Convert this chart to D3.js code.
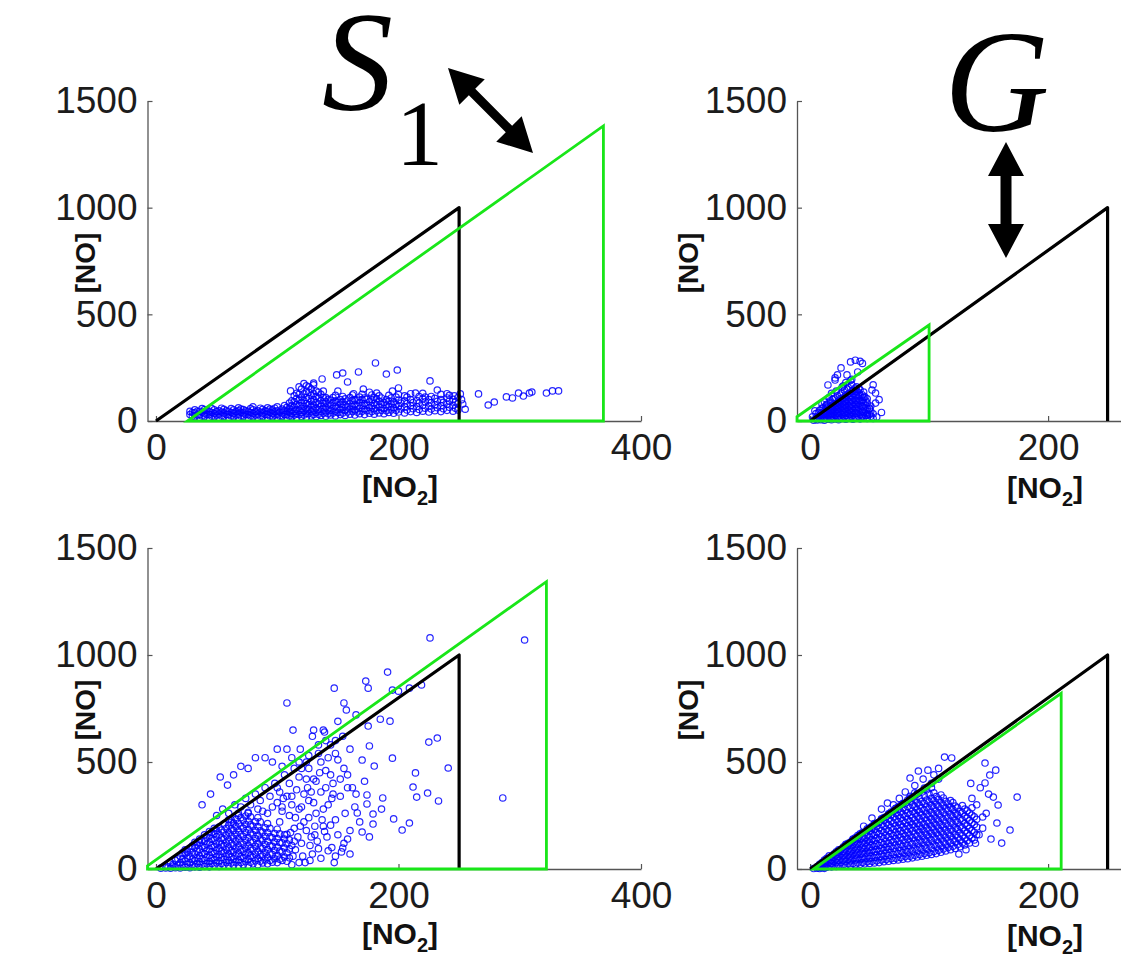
<!DOCTYPE html>
<html><head><meta charset="utf-8">
<script src="https://cdn.jsdelivr.net/npm/d3@7"></script>
<style>body{margin:0;background:#fff}svg{display:block}</style>
</head><body><svg id="c" width="1121" height="958"></svg>
<script>
// ---------- tick values ----------
const yTicks=[0,500,1000,1500];
const xTicksWide=[0,200,400];
const xTicksNarrow=[0,200];
// ---------- boundary lines ----------
const blackBound=[[0,0],[250,1000],[250,0]];
const greenTL=[[26,0],[369,1383],[369,0]];
const greenTR=[[-11,20],[100,450],[100,0],[-11,0]];
const greenBL=[[-7,15],[322,1343],[322,0],[-7,0]];
const greenBR=[[3,0],[211,821],[211,0]];
// ---------- scatter data: dense columns [NO2, NO, NO, ...] and single points [NO2, NO] ----------
const tlDense=[
[28,30,45],[32,20,38,52],[36,16,30,46],[40,22,38,54],[44,14,30,46],[48,20,36,52],[52,16,32,48],[56,22,38,55],
[60,15,30,46],[64,20,36,52],[68,16,32,48,62],[72,22,38,54],[76,15,30,46],[80,20,36,52,66],[84,16,32,48],
[88,22,38,55],[92,15,30,46,62],[96,20,36,52],[100,16,32,48,66],[104,22,38,56],[108,15,30,46,64],
[112,20,36,52,72,95],[116,16,34,54,78,105,130],[120,22,40,60,85,112,150],[124,18,36,58,82,110,140,165],
[128,24,44,66,92,120,150],[132,20,40,62,88,115,140],[136,26,46,70,96,125],[140,22,42,66,90,110],
[144,28,50,74,98],[148,24,46,70,95,120],[152,30,54,78,100],[156,26,50,75,104],[160,32,56,80,110],
[164,28,52,78,100],[168,34,60,86,112],[172,30,56,82,108],[176,36,62,90],[180,32,58,84,110],[184,38,64,92,118],
[188,34,60,88],[192,40,66,94,120],[196,36,62,90],[200,42,70,98,124],[205,38,66,95],[210,44,72,100,128],
[215,40,68,96],[220,46,74,104,130],[225,42,70,100],[230,48,76,106],[235,44,72,100,125],[240,50,78,108],
[245,46,74,102],[249,52,80,110]];
const tlDense2=[
[30,24,40],[34,28,46],[38,24,42,58],[42,30,50],[46,22,40,58],[50,28,44],[54,24,42,60],[58,30,48],[62,24,40,58],
[66,28,44],[70,24,40,56],[74,30,48],[78,24,40,58],[82,28,44],[86,24,42,60],[90,30,48],[94,24,40,56],[98,28,44,60],
[102,24,42],[106,30,50,72],[110,24,42,60,84],[114,28,46,66,90,118],[118,30,50,72,98,125,160],[122,28,48,70,96,128,175],
[126,34,54,76,105,135,160],[130,30,52,76,100,128,170],[134,32,54,80,108,135],[138,36,58,82,110,140],[142,34,56,80,102],
[146,38,60,86,110],[150,40,62,88],[154,38,64,90,115],[158,42,66,94],[162,44,68,96,122],[166,42,70,98],[170,46,72,100,125],
[174,48,74,102],[178,44,72,100,122],[182,48,76,104],[186,50,78,108],[190,48,76,100],[194,52,80,108],[198,50,78,112],
[202,56,84],[207,52,82,112],[212,58,86],[217,54,84,115],[222,60,90],[227,56,86,115],[232,62,92],[237,58,88],
[242,64,94,120],[247,60,90]];
const tlPoints=[[181,272],[199,239],[167,230],[190,220],[154,225],[149,216],[158,183],[137,197],[130,178],[111,141],
[226,188],[200,155],[232,145],[214,131],[182,131],[171,150],[195,140],[205,118],[222,112],[240,128],[246,118],
[176,135],[163,128],[150,140],[251,127],[266,127],[274,75],[279,89],[289,113],[294,108],[299,131],[303,117],
[308,131],[310,136],[322,131],[327,141],[332,141],[253,80],[255,55],[252,100]];
const trDense=[
[3,4],[6,5,18],[9,6,20,34],[12,4,18,32,46],[15,8,24,40,56],[18,6,22,38,54,70],[21,10,26,44,62,80],
[24,6,24,42,60,78,94],[27,12,30,48,66,84,104],[30,8,26,44,62,80,100,118],[33,14,32,50,70,90,110,130],
[36,8,28,48,68,88,108,128,144],[39,16,36,56,76,96,118,140,160],[42,10,30,52,74,96,120,146],
[45,18,40,62,86,110,136],[48,12,34,58,84,104],[51,22,46,70]];
const trDense2=[
[5,10],[8,12,26],[11,12,28,40],[14,14,30,46,60],[17,16,32,48,64],[20,16,32,50,68,82],[23,18,36,54,72,88],
[26,16,34,52,70,90,106],[29,20,40,58,76,94,112],[32,18,36,54,72,92,112,126],[35,22,42,60,80,100,120,138],
[38,18,38,58,78,98,120,138,154],[41,22,42,64,86,108,132,152],[44,24,46,70,98,122],[47,26,48,72,94],[50,30,56],[53,12,34]];
const trPoints=[[2,20],[5,35],[8,50],[11,62],[14,78],[17,88],[20,105],[23,118],[26,130],[29,145],[32,158],[35,170],
[4,48],[10,80],[16,110],[22,140],[28,165],[34,190],[7,40],[13,70],[19,100],[25,122],[31,150],
[10,60],[14,75],[17,95],[15,169],[21,192],[21,202],[23,216],[31,216],[26,249],[34,277],[38,285],[42,280],
[44,270],[30,180],[27,160],[35,195],[40,230],[18,130],[12,90],
[52,145],[55,131],[46,113],[55,84],[50,61],[48,28],[56,19],[60,40],[58,100],[53,170]];
const blDense=[
[4,4],[8,5],[12,4,30],[16,6,40],[20,5,30,60],[24,8,36,70,90],[28,6,30,60,95],[32,10,38,68,100,125],
[36,8,34,62,92,124,140],[40,12,40,70,100,130,160],[44,10,36,64,94,126,158,175],[48,14,42,72,102,134,166,190],
[52,12,38,68,98,130,162,196],[56,16,44,74,106,138,172,210],[60,14,40,70,102,136,170,205,230],
[64,18,46,78,110,144,180,215],[68,16,42,74,108,142,178,214,250],[72,20,50,82,116,152,190,228],
[76,18,46,78,112,148,186,224,265],[80,24,54,88,124,160,200],[84,20,50,84,120,158,198,240],
[88,28,60,96,134,172],[92,24,56,92,130,170,212],[96,32,68,106,146],[100,30,64,102,142,186],
[104,40,80,122],[108,36,76,118,162]];
const blDense2=[
[10,10],[14,14,22],[18,18,48],[22,20,46,76],[26,22,50,80],[30,20,46,78,108],[34,24,50,82,112],[38,22,48,76,108,132],
[42,24,54,84,116,146],[46,26,50,80,110,142,170],[50,28,56,86,118,150,180],[54,26,54,84,116,146,182],
[58,30,58,90,122,156,190],[62,28,56,86,120,154,188,218],[66,32,62,94,128,162,198,232],[70,30,58,92,126,162,200,240],
[74,34,66,98,134,170,208,248],[78,32,62,96,130,168,206,244],[82,38,70,106,142,180,220],[86,36,68,102,140,178,220],
[90,42,76,114,152,192],[94,40,74,110,150,190],[98,48,86,126,166],[102,46,84,124,164],[106,56,98,140],[110,52,94,136]];
const blPoints=[[50,250],[55,280],[60,260],[65,300],[70,290],[74,330],[78,300],[82,350],[86,320],[90,380],[94,340],
[98,400],[102,360],[106,440],[110,400],[114,470],[118,430],[122,350],[126,470],[88,270],[96,290],[104,270],
[112,300],[120,290],[128,360],[132,410],[140,380],[136,500],[144,440],[100,310],[108,340],[116,370],[124,420],
[92,260],[84,280],[76,260],[68,260],[62,230],[130,310],[138,280],[146,350],[152,420],[158,380],[142,520],
[148,600],[134,580],[126,530],[118,500],[112,520],[104,480],
[100,380],[102,220],[104,290],[106,160],[110,250],[112,340],[114,190],[118,280],[122,220],[124,500],[126,320],
[128,150],[130,420],[132,260],[134,540],[136,360],[138,200],[140,460],[142,300],[144,580],[146,400],[148,230],
[150,510],[152,340],[154,620],[156,260],[158,440],[160,180],[162,380],[164,290],[168,220],[172,410],[176,150],
[105,330],[115,240],[125,380],[135,450],[145,330],[155,470],[165,350],[119,560],[129,620],[139,640],
[53,430],[45,350],[59,392],[38,300],[64,440],[70,480],[76,470],[82,520],[90,520],[96,500],[100,560],[108,560],
[113,649],[108,776],[130,649],[138,649],[147,845],[155,776],[157,743],[173,878],[175,845],[191,920],[195,836],
[200,831],[209,845],[219,860],[226,1080],[304,1070],[193,691],[175,668],[225,593],[232,612],[176,575],
[195,518],[170,509],[180,481],[241,472],[214,449],[212,383],[224,355],[233,318],[215,336],[286,332],[187,332],
[174,346],[174,304],[186,280],[179,257],[196,234],[209,215],[203,182],[166,262],[170,173],[179,210],[154,98],
[185,700],[165,720],[150,690],[140,600],[160,560],[148,540],[120,470],
[113,60],[120,120],[127,40],[134,95],[141,150],[148,60],[155,120],[160,70],[118,30],[131,160],[145,100],
[112,20],[115,90],[117,150],[121,60],[124,180],[127,110],[129,70],[133,130],[136,50],[139,175],[142,85],[147,30],
[150,160],[153,80],[158,140],[114,130],[119,200],[123,30],[126,240],[131,200],[137,230],[144,205],[111,170],[112,110]];
const brDense=[
[6,4,12],[10,6,18,30],[14,8,22,38,50],[18,10,26,42,58],[22,12,30,48,66,80],[26,14,32,52,72,92],
[30,16,36,56,76,98,112],[34,18,38,60,82,104,126],[38,20,42,64,86,108,130,146],[42,22,44,68,90,114,138,160],
[46,24,48,72,96,120,144,168],[50,26,50,76,100,126,150,176,192],[54,28,54,80,106,132,158,184,208],
[58,30,56,84,110,138,164,192,218],[62,34,60,88,116,144,172,200,228,240],[66,36,64,92,120,150,178,206,234,256],
[70,40,68,96,126,156,186,214,244,270],[74,42,72,100,130,160,190,220,250,280,290],
[78,46,76,106,136,166,196,226,256,286,306],[82,48,80,110,140,172,202,232,262,292,322],
[86,52,84,116,146,178,208,240,270,300,336],[90,56,88,120,152,184,214,246,278,310,350],
[94,60,92,124,156,188,220,252,284,316,360],[98,64,96,128,160,192,226,258,290,322,370],
[102,68,100,134,166,198,232,264,296,330,380],[106,72,106,138,170,204,236,270,302,338],
[110,78,110,144,176,208,242,276,310,346],[114,84,116,148,182,214,248,282,316],[118,90,122,154,186,220,254,288,320],
[122,96,128,160,192,226,260,294],[126,104,136,168,200,234,268],[130,112,144,178,212,246,280],
[134,122,156,190,226,262],[138,136,172,208,244]];
const brDense2=[
[8,8,22],[12,12,26,42],[16,14,30,46,62],[20,16,34,52,70],[24,18,40,58,78,90],[28,20,42,62,82,104],
[32,24,46,66,88,110,120],[36,26,50,72,94,116,136],[40,28,52,76,98,120,142,156],[44,30,56,80,102,126,150,170],
[48,34,60,84,108,132,156,182],[52,36,62,88,114,138,164,188,200],[56,38,66,92,118,146,172,200,214],
[60,42,70,98,124,152,180,208,232],[64,44,74,102,130,158,186,216,244],[68,48,78,106,136,166,194,224,254,266],
[72,50,82,112,142,172,202,232,262,284],[76,54,86,116,148,178,208,238,268,298],[80,58,90,122,154,184,216,246,276,308],
[84,60,94,126,158,190,222,254,286,318,340],[88,64,98,132,164,196,228,260,292,326,356],[92,68,102,136,170,202,234,266,298,332],
[96,72,108,140,174,208,240,274,306,342],[100,76,112,146,180,214,246,280,314,350],[104,82,116,150,184,218,252,286,320,356],
[108,88,122,156,190,224,258,292,326],[112,94,128,162,196,230,264,298,332],[116,100,134,168,202,238,272,304],
[120,106,140,176,210,244,278,310],[124,114,148,184,218,252,286],[128,122,156,192,228,262,296],[132,132,168,202,238,272],
[136,144,180,216,252,286],[140,160,196,232]];
const brPoints=[[52,238],[65,308],[84,425],[91,458],[99,462],[113,523],[119,519],[108,470],[104,440],[75,330],
[60,280],[45,200],[70,300],[95,420],[88,390],[80,360],
[30,115],[36,140],[42,165],[48,188],[54,212],[60,235],[66,258],[72,282],[78,305],[84,330],[90,352],[96,378],
[102,400],[108,420],
[174,336],[147,495],[156,462],[151,439],[147,402],[161,121],[168,182],[154,336],[158,299],[157,215],[145,243],
[145,191],[142,160],[140,300],[148,260],[150,350],[143,380],[136,330],[139,120],[152,140],[131,90],[125,70],
[135,400],[3,2],[8,2],[12,3]];

function flat(){const out=[];for(const set of arguments){set.forEach(c=>{if(set.isPairs){out.push(c);}else{for(let i=1;i<c.length;i++)out.push([c[0],c[i]]);}});}return out;}
function pairs(a){const b=a.slice();b.isPairs=true;return b;}

const svg=d3.select("#c");
const panels=[
 {xd:[-7,400],xr:[147.5,641],yr:[421,101],xt:xTicksWide,green:greenTL,pts:flat(tlDense,tlDense2,pairs(tlPoints)),xl:[400,497],yl:[85,263]},
 {xd:[-11,270],xr:[797,797+281*1.19],yr:[421,101],xt:xTicksNarrow,green:greenTR,pts:flat(trDense,trDense2,pairs(trPoints)),xl:[1045,498],yl:[688,263]},
 {xd:[-7,400],xr:[147.5,641],yr:[869,548],xt:xTicksWide,green:greenBL,pts:flat(blDense,blDense2,pairs(blPoints)),xl:[400,944],yl:[85,710]},
 {xd:[-11,270],xr:[797,797+281*1.19],yr:[869,548],xt:xTicksNarrow,green:greenBR,pts:flat(brDense,brDense2,pairs(brPoints)),xl:[1045,946],yl:[688,710]}
];
const tickFont='"Liberation Sans", Arial, Helvetica, sans-serif';
panels.forEach(p=>{
  const x=d3.scaleLinear().domain(p.xd).range(p.xr);
  const y=d3.scaleLinear().domain([0,1500]).range(p.yr);
  const g=svg.append("g");
  const ax=g.append("g").attr("transform",`translate(0,${p.yr[0]})`)
    .call(d3.axisBottom(x).tickValues(p.xt).tickFormat(d3.format("d")).tickSizeInner(-5).tickSizeOuter(0).tickPadding(13));
  const ay=g.append("g").attr("transform",`translate(${p.xr[0]},0)`)
    .call(d3.axisLeft(y).tickValues(yTicks).tickFormat(d3.format("d")).tickSizeInner(-5).tickSizeOuter(0).tickPadding(10));
  [ax,ay].forEach(a=>{
    a.select(".domain").attr("stroke","#555").attr("stroke-width",1.3);
    a.selectAll(".tick line").attr("stroke","#555").attr("stroke-width",1.2);
    a.selectAll(".tick text").attr("font-family",tickFont).attr("font-size",37).attr("fill","#1c1c1c");
  });
  // scatter
  g.append("g").selectAll("circle").data(p.pts).join("circle")
    .attr("cx",d=>x(d[0])).attr("cy",d=>y(d[1])).attr("r",3.2)
    .attr("fill","none").attr("stroke","#0000ff").attr("stroke-width",1.2).attr("stroke-opacity",0.85);
  const line=d3.line().x(d=>x(d[0])).y(d=>y(d[1]));
  g.append("path").attr("d",line(blackBound)).attr("fill","none").attr("stroke","#000").attr("stroke-width",3.2).attr("stroke-linejoin","round");
  g.append("path").attr("d",line(p.green)+"Z").attr("fill","none").attr("stroke","#19e619").attr("stroke-width",2.8);
  // axis labels
  const xl=g.append("text").attr("x",p.xl[0]).attr("y",p.xl[1]).attr("text-anchor","middle")
    .attr("font-family",tickFont).attr("font-weight","bold").attr("font-size",30).attr("fill","#111");
  xl.append("tspan").text("[NO");
  xl.append("tspan").text("2").attr("font-size",20).attr("dy",8);
  xl.append("tspan").text("]").attr("dy",-8);
  g.append("text").attr("transform",`translate(${p.yl[0]},${p.yl[1]}) rotate(-90)`)
    .attr("text-anchor","middle").attr("dominant-baseline","central")
    .attr("font-family",tickFont).attr("font-weight","bold").attr("font-size",28).attr("fill","#111").text("[NO]");
});

// ---------- annotations ----------
function dblArrow(p1,p2,hl,hw,sw){
  const dx=p2[0]-p1[0],dy=p2[1]-p1[1],L=Math.hypot(dx,dy),ux=dx/L,uy=dy/L,nx=-uy,ny=ux;
  const P=(t,s)=>[p1[0]+ux*t+nx*s,p1[1]+uy*t+ny*s];
  return [P(0,0),P(hl,hw),P(hl,sw),P(L-hl,sw),P(L-hl,hw),P(L,0),P(L-hl,-hw),P(L-hl,-sw),P(hl,-sw),P(hl,-hw)];
}
const serif='"Liberation Serif", "Times New Roman", Times, serif';
svg.append("text").attr("x",322).attr("y",110).attr("font-family",serif).attr("font-style","italic")
  .attr("font-size",142).attr("fill","#000").text("S");
svg.append("text").attr("x",396).attr("y",165).attr("font-family",serif)
  .attr("font-size",94).attr("fill","#000").text("1");
svg.append("text").attr("x",944).attr("y",131).attr("font-family",serif).attr("font-style","italic")
  .attr("font-size",146).attr("fill","#000").text("G");
svg.append("polygon").attr("points",dblArrow([448,68],[533,153],34,18,4.5).map(d=>d.join(",")).join(" ")).attr("fill","#000");
svg.append("polygon").attr("points",dblArrow([1006,142],[1006,258],34,18,5.5).map(d=>d.join(",")).join(" ")).attr("fill","#000");
</script></body></html>
